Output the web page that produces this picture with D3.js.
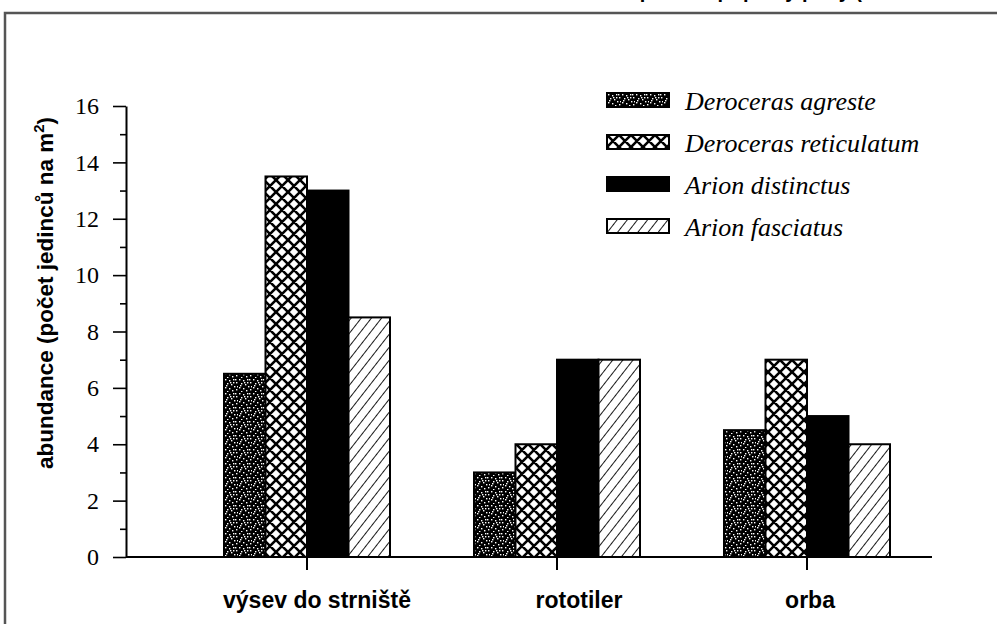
<!DOCTYPE html>
<html>
<head>
<meta charset="utf-8">
<script src="https://cdn.jsdelivr.net/npm/d3@7"></script>
<style>
  body { margin: 0; background: #fff; }
  svg { display: block; }
</style>
</head>
<body>
<svg width="997" height="624"></svg>
<script>
// values (jedinců na m2)
var categories = ["výsev do strniště", "rototiler", "orba"];
var species = ["Deroceras agreste", "Deroceras reticulatum", "Arion distinctus", "Arion fasciatus"];
var agreste = [6.5, 3, 4.5];
var reticulatum = [13.5, 4, 7];
var distinctus = [13, 7, 5];
var fasciatus = [8.5, 7, 4];
var yTicks = [0, 2, 4, 6, 8, 10, 12, 14, 16];
var yMinorTicks = [1, 3, 5, 7, 9, 11, 13, 15];

var series = [agreste, reticulatum, distinctus, fasciatus];
var fills = ["url(#speckle)", "url(#mesh)", "#000", "url(#hatch)"];
var labelShift = [10, 22, 3];

var svg = d3.select("svg");
var defs = svg.append("defs");

// speckled black
var sp = defs.append("pattern").attr("id", "speckle")
    .attr("patternUnits", "userSpaceOnUse").attr("width", 14).attr("height", 14);
sp.append("rect").attr("width", 14).attr("height", 14).attr("fill", "#000");
[[1,1],[5,2],[9,1],[12,4],[3,5],[7,6],[10,8],[1,9],[5,10],[12,11],[8,12],[3,13],[11,1],[6,4],[2,7],[9,4],[13,8]]
    .forEach(function (p) {
        sp.append("rect").attr("x", p[0]).attr("y", p[1]).attr("width", 1.4).attr("height", 1.4).attr("fill", "#fff");
    });

// cross hatch mesh
var me = defs.append("pattern").attr("id", "mesh")
    .attr("patternUnits", "userSpaceOnUse").attr("width", 12).attr("height", 12);
me.append("rect").attr("width", 12).attr("height", 12).attr("fill", "#fff");
me.append("path").attr("d", "M0,0L12,12M12,0L0,12M-6,6L6,-6M6,18L18,6M-6,6L6,18M6,-6L18,6")
    .attr("stroke", "#000").attr("stroke-width", 2.6);

// diagonal hatch
var ha = defs.append("pattern").attr("id", "hatch")
    .attr("patternUnits", "userSpaceOnUse").attr("width", 8).attr("height", 8)
    .attr("patternTransform", "rotate(38)");
ha.append("rect").attr("width", 8).attr("height", 8).attr("fill", "#fff");
ha.append("line").attr("x1", 0).attr("y1", 0).attr("x2", 0).attr("y2", 8)
    .attr("stroke", "#000").attr("stroke-width", 1.8);

// title, only its lowest strokes reach into the picture
svg.append("text")
    .attr("x", 862).attr("y", -2)
    .attr("text-anchor", "end")
    .attr("font-family", "'Liberation Sans', Arial, sans-serif")
    .attr("font-weight", "bold")
    .attr("font-size", 20)
    .text("způsobu přípravy půdy (");

// frame
svg.append("rect")
    .attr("x", 5).attr("y", 13).attr("width", 1000).attr("height", 620)
    .attr("fill", "none").attr("stroke", "#555").attr("stroke-width", 2.5);

var x = d3.scaleBand().domain(categories).range([182, 932])
    .paddingInner(0.336).paddingOuter(0.168);
var xs = d3.scaleBand().domain(d3.range(species.length)).range([0, x.bandwidth()]);
var y = d3.scaleLinear().domain([0, 16]).range([557, 106]);

// bars
series.forEach(function (vals, s) {
    svg.append("g").selectAll("rect")
        .data(vals)
        .enter().append("rect")
        .attr("x", function (d, i) { return x(categories[i]) + xs(s); })
        .attr("y", function (d) { return y(d); })
        .attr("width", xs.bandwidth())
        .attr("height", function (d) { return y(0) - y(d); })
        .attr("fill", fills[s])
        .attr("stroke", "#000")
        .attr("stroke-width", 2);
});

// y axis
var yAxis = svg.append("g")
    .attr("transform", "translate(126,0)")
    .call(d3.axisLeft(y).tickValues(yTicks).tickSize(13).tickSizeOuter(0).tickPadding(14));
yAxis.select(".domain").attr("stroke-width", 2);
yAxis.selectAll(".tick line").attr("stroke-width", 1.6);
yAxis.selectAll("text")
    .attr("font-family", "'Liberation Serif', 'Times New Roman', serif")
    .attr("font-size", 24).attr("fill", "#000");

svg.append("g")
    .attr("transform", "translate(126,0)")
    .call(d3.axisLeft(y).tickValues(yMinorTicks).tickSize(6).tickFormat(""))
    .call(function (g) { g.select(".domain").remove(); })
    .selectAll("line").attr("stroke-width", 1.6);

// x axis
var xAxis = svg.append("g")
    .attr("transform", "translate(0," + y(0) + ")")
    .call(d3.axisBottom(x).tickSize(13).tickFormat(""));
xAxis.select(".domain").remove();
xAxis.selectAll(".tick line").attr("stroke-width", 2);
xAxis.append("line")
    .attr("x1", 126).attr("x2", x.range()[1])
    .attr("stroke", "#000").attr("stroke-width", 2);

svg.append("g").selectAll("text")
    .data(categories)
    .enter().append("text")
    .attr("x", function (d, i) { return x(d) + x.bandwidth() / 2 + labelShift[i]; })
    .attr("y", 608)
    .attr("text-anchor", "middle")
    .attr("font-family", "'Liberation Sans', Arial, sans-serif")
    .attr("font-weight", "bold")
    .attr("font-size", 23)
    .text(function (d) { return d; });

// y title
var yTitle = svg.append("text")
    .attr("transform", "translate(53,293) rotate(-90)")
    .attr("text-anchor", "middle")
    .attr("font-family", "'Liberation Sans', Arial, sans-serif")
    .attr("font-weight", "bold")
    .attr("font-size", 22.5);
yTitle.append("tspan").text("abundance (počet jedinců na m");
yTitle.append("tspan").attr("dy", -9).attr("font-size", 15).text("2");
yTitle.append("tspan").attr("dy", 9).text(")");

// legend
var legend = svg.append("g").attr("transform", "translate(607,93)");
var rows = legend.selectAll("g")
    .data(species)
    .enter().append("g")
    .attr("transform", function (d, i) { return "translate(0," + i * 42 + ")"; });
rows.append("rect")
    .attr("width", 62).attr("height", 14)
    .attr("fill", function (d, i) { return fills[i]; })
    .attr("stroke", "#000").attr("stroke-width", 2);
rows.append("text")
    .attr("x", 78).attr("y", 17)
    .attr("font-family", "'Liberation Serif', 'Times New Roman', serif")
    .attr("font-style", "italic")
    .attr("font-size", 26)
    .text(function (d) { return d; });
</script>
</body>
</html>
